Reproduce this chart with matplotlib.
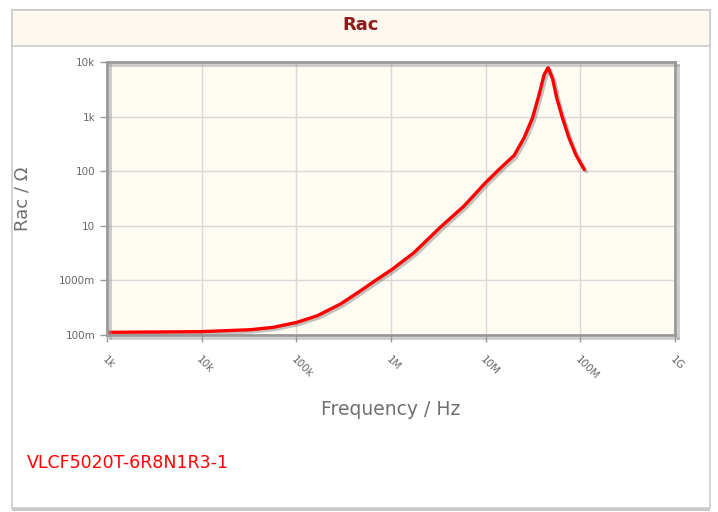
import matplotlib
matplotlib.use("Agg")
import matplotlib.pyplot as plt
import matplotlib.patheffects as pe
from matplotlib.patches import Rectangle

# frequency (Hz) and Rac (ohm)
freq = [1e3, 9.6e3, 3.26e4, 5.7e4, 1.02e5, 1.66e5, 2.92e5, 4.6e5, 6.58e5,
        1.03e6, 1.74e6, 3.34e6, 5.9e6, 1.0e7, 1.44e7, 2.0e7, 2.54e7, 3.12e7,
        3.66e7, 4.14e7, 4.56e7, 5.08e7, 5.64e7, 6.48e7, 7.6e7, 8.95e7, 1.1e8]
rac = [0.112, 0.115, 0.125, 0.138, 0.171, 0.225, 0.368, 0.62, 0.95,
       1.6, 3.2, 9.5, 23, 62, 115, 195, 405, 940,
       2500, 5800, 7900, 5000, 2180, 940, 405, 201, 107]

x_ticks = [1e3, 1e4, 1e5, 1e6, 1e7, 1e8, 1e9]
x_labels = ["1k", "10k", "100k", "1M", "10M", "100M", "1G"]
y_ticks = [0.1, 1, 10, 100, 1e3, 1e4]
y_labels = ["100m", "1000m", "10", "100", "1k", "10k"]

W, H = 718, 512
fig = plt.figure(figsize=(W / 100, H / 100), dpi=100)
fig.patch.set_facecolor("white")

def fx(x):
    return x / W

def fy(y):
    return 1 - y / H

# outer panel with header band
panel = Rectangle((fx(12), fy(508)), fx(698), (508 - 10) / H, transform=fig.transFigure,
                  facecolor="white", edgecolor="#cccccc", lw=1.2, zorder=-2,
                  path_effects=[pe.SimplePatchShadow(offset=(0, -2), shadow_rgbFace="#bbbbbb", alpha=0.8), pe.Normal()])
fig.patches.append(panel)
header = Rectangle((fx(12), fy(46)), fx(698), 36 / H, transform=fig.transFigure,
                   facecolor="#fdf9ee", edgecolor="#cccccc", lw=1.2, zorder=-1)
fig.patches.append(header)
fig.text(fx(361), fy(25), "Rac", ha="center", va="center", fontsize=13,
         fontweight="bold", color="#8b1c1c")

ax = fig.add_axes([fx(107), fy(335), fx(675 - 107), (335 - 62) / H])
ax.set_zorder(2)
ax.set_facecolor("#fffcf4")
ax.set_xscale("log")
ax.set_yscale("log")
ax.set_xlim(1e3, 1e9)
ax.set_ylim(0.1, 1e4)

ax.plot(freq, rac, color="red", lw=2.4, solid_capstyle="round", solid_joinstyle="round",
        path_effects=[pe.SimpleLineShadow(offset=(1.5, -1.5), shadow_color="#555555", alpha=0.35), pe.Normal()])

ax.set_xticks(x_ticks)
ax.set_xticklabels(x_labels, rotation=-45, ha="left", va="top", rotation_mode="anchor")
ax.set_yticks(y_ticks)
ax.set_yticklabels(y_labels)
ax.minorticks_off()
ax.tick_params(axis="both", colors="#999999", labelcolor="#666666", labelsize=7.5,
               length=5, width=1)
ax.tick_params(axis="x", pad=9)
ax.grid(True, color="#d8d8d8", lw=1)
ax.set_axisbelow(True)
for side in ["left", "bottom", "top", "right"]:
    ax.spines[side].set_color("#999999")
    ax.spines[side].set_linewidth(2)
    ax.spines[side].set_path_effects([pe.SimpleLineShadow(offset=(2, -2), shadow_color="#999999", alpha=0.5), pe.Normal()])

ax.set_xlabel("Frequency / Hz", fontsize=13.5, color="#707070", labelpad=13)
ax.set_ylabel("Rac / \u03a9", fontsize=13, color="#707070", labelpad=20)

fig.text(fx(27), fy(463), "VLCF5020T-6R8N1R3-1", ha="left", va="center",
         fontsize=12.5, color="red")

fig.savefig("out.png", dpi=100)
